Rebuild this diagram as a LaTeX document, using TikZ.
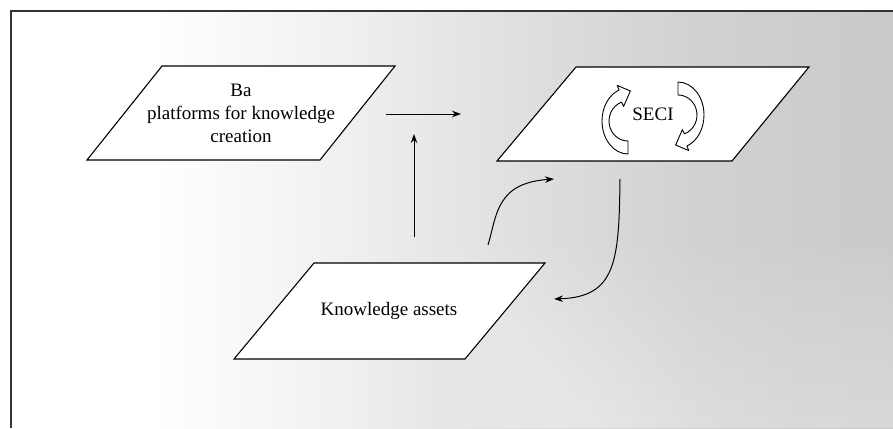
\documentclass[tikz,border=0pt]{standalone}
\usepackage{fontspec}
\setmainfont{Liberation Serif}
\usetikzlibrary{arrows.meta}

% grey tone of the paper, light on the left and darker to the right
% (the filled path spans 25bp to 75bp of the shading)
\pgfdeclarehorizontalshading{papertone}{100bp}{color(0bp)=(white); color(33bp)=(white); color(44bp)=(black!6); color(53bp)=(black!12); color(64bp)=(black!18); color(75bp)=(black!21); color(100bp)=(black!21)}

\tikzset{
  plat/.style={draw=black, fill=white, line width=1.1pt, line join=miter},
  lbl/.style={font=\fontsize{19}{23}\selectfont, align=center, inner sep=0pt},
  link/.style={draw=black, line width=1pt, -{Stealth[length=9pt,width=6.5pt]}},
  swirl/.style={draw=black, fill=white, line width=0.9pt, line join=round},
  seciloop/.pic={
    \draw[swirl] (90:26 and 33)
      arc[start angle=90, end angle=250, x radius=26, y radius=33]
      -- (-10.8,-35.6) -- (2.4,-30.0) -- (-4.4,-14.6)
      -- (250:19 and 20)
      arc[start angle=250, end angle=90, x radius=19, y radius=20]
      -- cycle;
  }
}

\begin{document}
\begin{tikzpicture}[x=1pt, y=-1pt]
\useasboundingbox (0,0) rectangle (893,428);

% paper tone, fading out towards the bottom
\shade[shading=papertone] (11,11) rectangle (893,428);
\foreach \i in {0,...,11} {
  \fill[white, opacity=0.04] (11,{250+\i*15}) rectangle (893,428);
}

% frame
\draw[black!80, line width=1.3pt] (11,428) -- (11,11) -- (893,11);

% the three planes
\draw[plat] (87,160) -- (162,66) -- (395,66) -- (320,160) -- cycle;
\draw[plat] (497,161) -- (576,67) -- (809,67) -- (732,161) -- cycle;
\draw[plat] (234,359) -- (314,263) -- (545,263) -- (465,359) -- cycle;

\node[lbl] (ba) at (241,113) {Ba\\platforms for knowledge\\creation};
\node[lbl] (seci) at (653,114) {SECI};
\node[lbl] (assets) at (389,311) {Knowledge assets};

% spiral of the SECI process
\pic at (628,121) {seciloop};
\pic[rotate=180] at (678,115) {seciloop};

% flows between the planes
\coordinate (h0) at (386,114);
\coordinate (h1) at (461,114);
\coordinate (v0) at (414,237);
\coordinate (v1) at (414,134);
\coordinate (u0) at (488,245);
\coordinate (u1) at (554,179);
\coordinate (d0) at (620,179);
\coordinate (d1) at (554,299);

\draw[link] (h0) -- (h1);
\draw[link] (v0) -- (v1);
\draw[link] (u0) .. controls (497,215) and (496,183) .. (u1);
\draw[link] (d0) .. controls (619,262) and (616,297) .. (d1);
\end{tikzpicture}
\end{document}
